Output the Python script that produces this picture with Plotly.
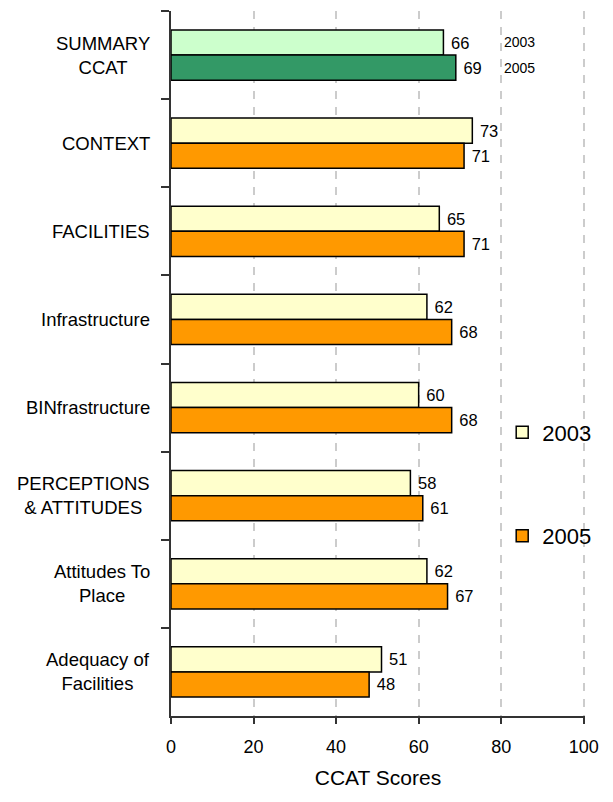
import plotly.graph_objects as go

categories = ["SUMMARY<br>CCAT", "CONTEXT", "FACILITIES", "Infrastructure",
              "BINfrastructure", "PERCEPTIONS<br>& ATTITUDES",
              "Attitudes To<br>Place", "Adequacy of<br>Facilities"]
scores_2003 = [66, 73, 65, 62, 60, 58, 62, 51]
scores_2005 = [69, 71, 71, 68, 68, 61, 67, 48]
x_ticks = [0, 20, 40, 60, 80, 100]

REG = "Liberation Sans, Arial, sans-serif"

fig = go.Figure()
line = dict(color="black", width=1.5)
tfont = dict(family=REG, size=16.5, color="black")
tt = "\u00a0%{x}"
# main categories
fig.add_trace(go.Bar(y=categories[1:], x=scores_2003[1:], orientation="h", name="2003",
                     marker=dict(color="#FFFFCC", line=line), offsetgroup="a",
                     legendgroup="g1", texttemplate=tt, textposition="outside",
                     textfont=tfont, cliponaxis=False))
fig.add_trace(go.Bar(y=categories[1:], x=scores_2005[1:], orientation="h", name="2005",
                     marker=dict(color="#FF9900", line=line), offsetgroup="b",
                     legendgroup="g2", texttemplate=tt, textposition="outside",
                     textfont=tfont, cliponaxis=False))
# summary
fig.add_trace(go.Bar(y=categories[:1], x=scores_2003[:1], orientation="h", name="2003",
                     marker=dict(color="#CCFFCC", line=line), offsetgroup="a",
                     showlegend=False, texttemplate=tt, textposition="outside",
                     textfont=tfont, cliponaxis=False))
fig.add_trace(go.Bar(y=categories[:1], x=scores_2005[:1], orientation="h", name="2005",
                     marker=dict(color="#339966", line=line), offsetgroup="b",
                     showlegend=False, texttemplate=tt, textposition="outside",
                     textfont=tfont, cliponaxis=False))

annotations = []
for c in categories:
    annotations.append(dict(x=-0.045, xref="paper", y=c, yref="y", text=c,
                            showarrow=False, xanchor="right", align="center",
                            font=dict(family=REG, size=18.5, color="black")))
# small year labels beside summary bars
annotations.append(dict(x=80.2, y=categories[0], text="2003", showarrow=False,
                        xanchor="left", yshift=13, font=dict(family=REG, size=14, color="black")))
annotations.append(dict(x=80.2, y=categories[0], text="2005", showarrow=False,
                        xanchor="left", yshift=-13, font=dict(family=REG, size=14, color="black")))

fig.update_layout(
    width=613, height=802,
    margin=dict(l=163, r=36, t=3, b=94),
    plot_bgcolor="white", paper_bgcolor="white",
    barmode="group", bargap=0.43, bargroupgap=0,
    showlegend=True,
    legend=dict(x=0.80, y=0.432, xanchor="left", yanchor="top",
                font=dict(family=REG, size=22, color="black"),
                tracegroupgap=72, bgcolor="rgba(0,0,0,0)"),
    annotations=annotations,
)
fig.update_xaxes(range=[0, 100.3], tickvals=x_ticks, showgrid=True,
                 gridcolor="#cccccc", gridwidth=1.5, griddash="8px,8px",
                 zeroline=False, showline=True, linecolor="#333333", linewidth=1.5,
                 ticks="outside", ticklen=6, tickcolor="#333333", tickwidth=1.5,
                 tickfont=dict(family=REG, size=18, color="black"),
                 ticklabelstandoff=8,
                 title=dict(text="CCAT Scores", font=dict(family=REG, size=21, color="black"),
                            standoff=14))
fig.update_yaxes(type="category", categoryorder="array", categoryarray=categories,
                 range=[7.5, -0.5], showticklabels=False, showgrid=False,
                 showline=True, linecolor="#333333", linewidth=1.5,
                 ticks="outside", tickson="boundaries", ticklen=8,
                 tickcolor="#333333", tickwidth=1.5)

fig.write_html("out.html")
